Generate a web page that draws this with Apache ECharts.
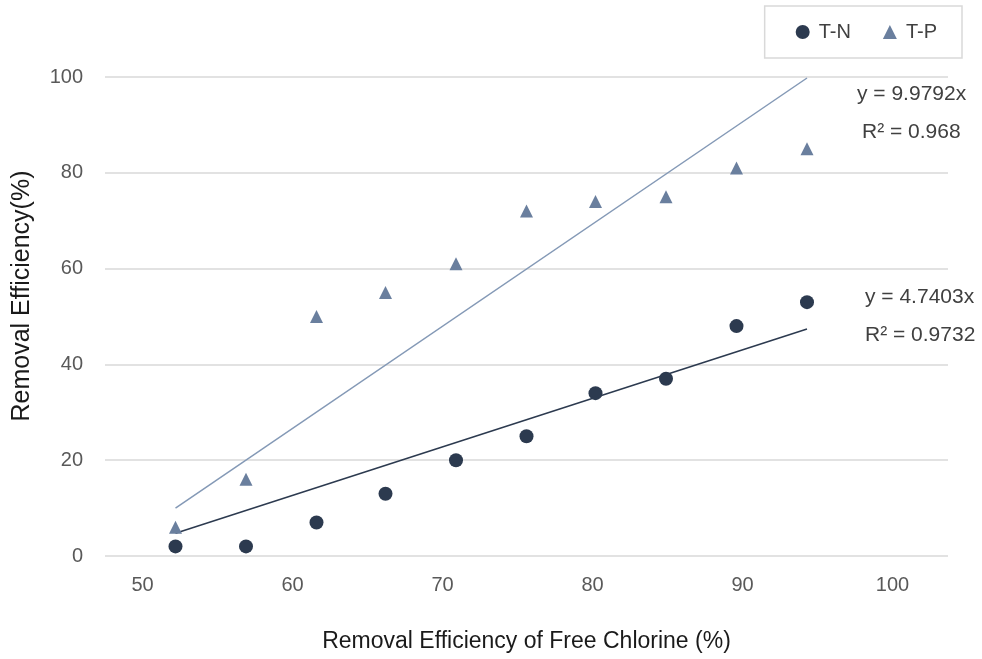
<!DOCTYPE html>
<html><head><meta charset="utf-8">
<script src="https://cdn.jsdelivr.net/npm/echarts@6/dist/echarts.min.js"></script>
<style>html,body{margin:0;padding:0;background:#fff}#c{width:982px;height:659px}</style>
</head><body><div id="c"></div>
<script>
const chlorine = [52.2, 56.9, 61.6, 66.2, 70.9, 75.6, 80.2, 84.9, 89.6, 94.3];
const tN = [2, 2, 7, 13, 20, 25, 34, 37, 48, 53];
const tP = [6, 16, 50, 55, 61, 72, 74, 75, 81, 85];
const slopeN = 4.7403, slopeP = 9.9792;
const xTicks = [50, 60, 70, 80, 90, 100];
const eqP = ['y = 9.9792x', 'R² = 0.968'];
const eqN = ['y = 4.7403x', 'R² = 0.9732'];

const n = chlorine.length;
const trendN = [[chlorine[0], slopeN * 1], [chlorine[n - 1], slopeN * n]];
const trendP = [[chlorine[0], slopeP * 1], [chlorine[n - 1], slopeP * n]];

const font = 'Liberation Sans, Arial, sans-serif';
const txt = (s, x, y) => ({ type: 'text', x: x, y: y,
  style: { text: s, fontSize: 21, fill: '#404040', fontFamily: font, verticalAlign: 'middle', align: 'left' } });

const chart = echarts.init(document.getElementById('c'));
chart.setOption({
  animation: false,
  grid: { left: 105, right: 34, top: 77, bottom: 103 },
  legend: {
    data: [{ name: 'T-N', icon: 'circle' }, { name: 'T-P', icon: 'triangle' }],
    right: 20, top: 6,
    borderColor: '#d9d9d9', borderWidth: 1.5,
    padding: [16, 25, 16, 31],
    itemWidth: 14, itemHeight: 14, itemGap: 32,
    textStyle: { fontSize: 20, color: '#404040', fontFamily: font, padding: [0, 0, 0, 4] }
  },
  xAxis: {
    type: 'value', min: 47.5, max: 103.7,
    name: 'Removal Efficiency of Free Chlorine (%)',
    nameLocation: 'middle', nameGap: 74,
    nameTextStyle: { fontSize: 23, color: '#1a1a1a', fontFamily: font },
    axisLine: { show: false }, axisTick: { show: false },
    splitLine: { show: false },
    axisLabel: { customValues: xTicks, fontSize: 20, color: '#595959', margin: 19, fontFamily: font }
  },
  yAxis: {
    type: 'value', min: 0, max: 100, interval: 20,
    axisLine: { show: false }, axisTick: { show: false },
    splitLine: { lineStyle: { color: '#d9d9d9', width: 1.5 } },
    axisLabel: { fontSize: 20, color: '#595959', margin: 22, fontFamily: font }
  },
  series: [
    { name: 'T-N', type: 'scatter', symbol: 'circle', symbolSize: 14,
      itemStyle: { color: '#2c3a4f', opacity: 1 }, data: chlorine.map((x, i) => [x, tN[i]]), z: 3 },
    { name: 'T-P', type: 'scatter', symbol: 'triangle', symbolSize: 13,
      itemStyle: { color: '#6a7f9e', opacity: 1 }, data: chlorine.map((x, i) => [x, tP[i]]), z: 3 },
    { name: 'trendP', type: 'line', data: trendP, symbol: 'none', silent: true,
      lineStyle: { color: '#8499b6', width: 1.5 }, z: 2 },
    { name: 'trendN', type: 'line', data: trendN, symbol: 'none', silent: true,
      lineStyle: { color: '#2c3a4f', width: 1.5 }, z: 2 }
  ],
  graphic: [
    txt(eqP[0], 857, 94), txt(eqP[1], 862, 132),
    txt(eqN[0], 865, 297), txt(eqN[1], 865, 335),
    { type: 'text', x: 22, y: 296, rotation: Math.PI / 2,
      style: { text: 'Removal Efficiency(%)', fontSize: 25, fill: '#1a1a1a', fontFamily: font, align: 'center', verticalAlign: 'middle' } }
  ]
});
</script>
</body></html>
